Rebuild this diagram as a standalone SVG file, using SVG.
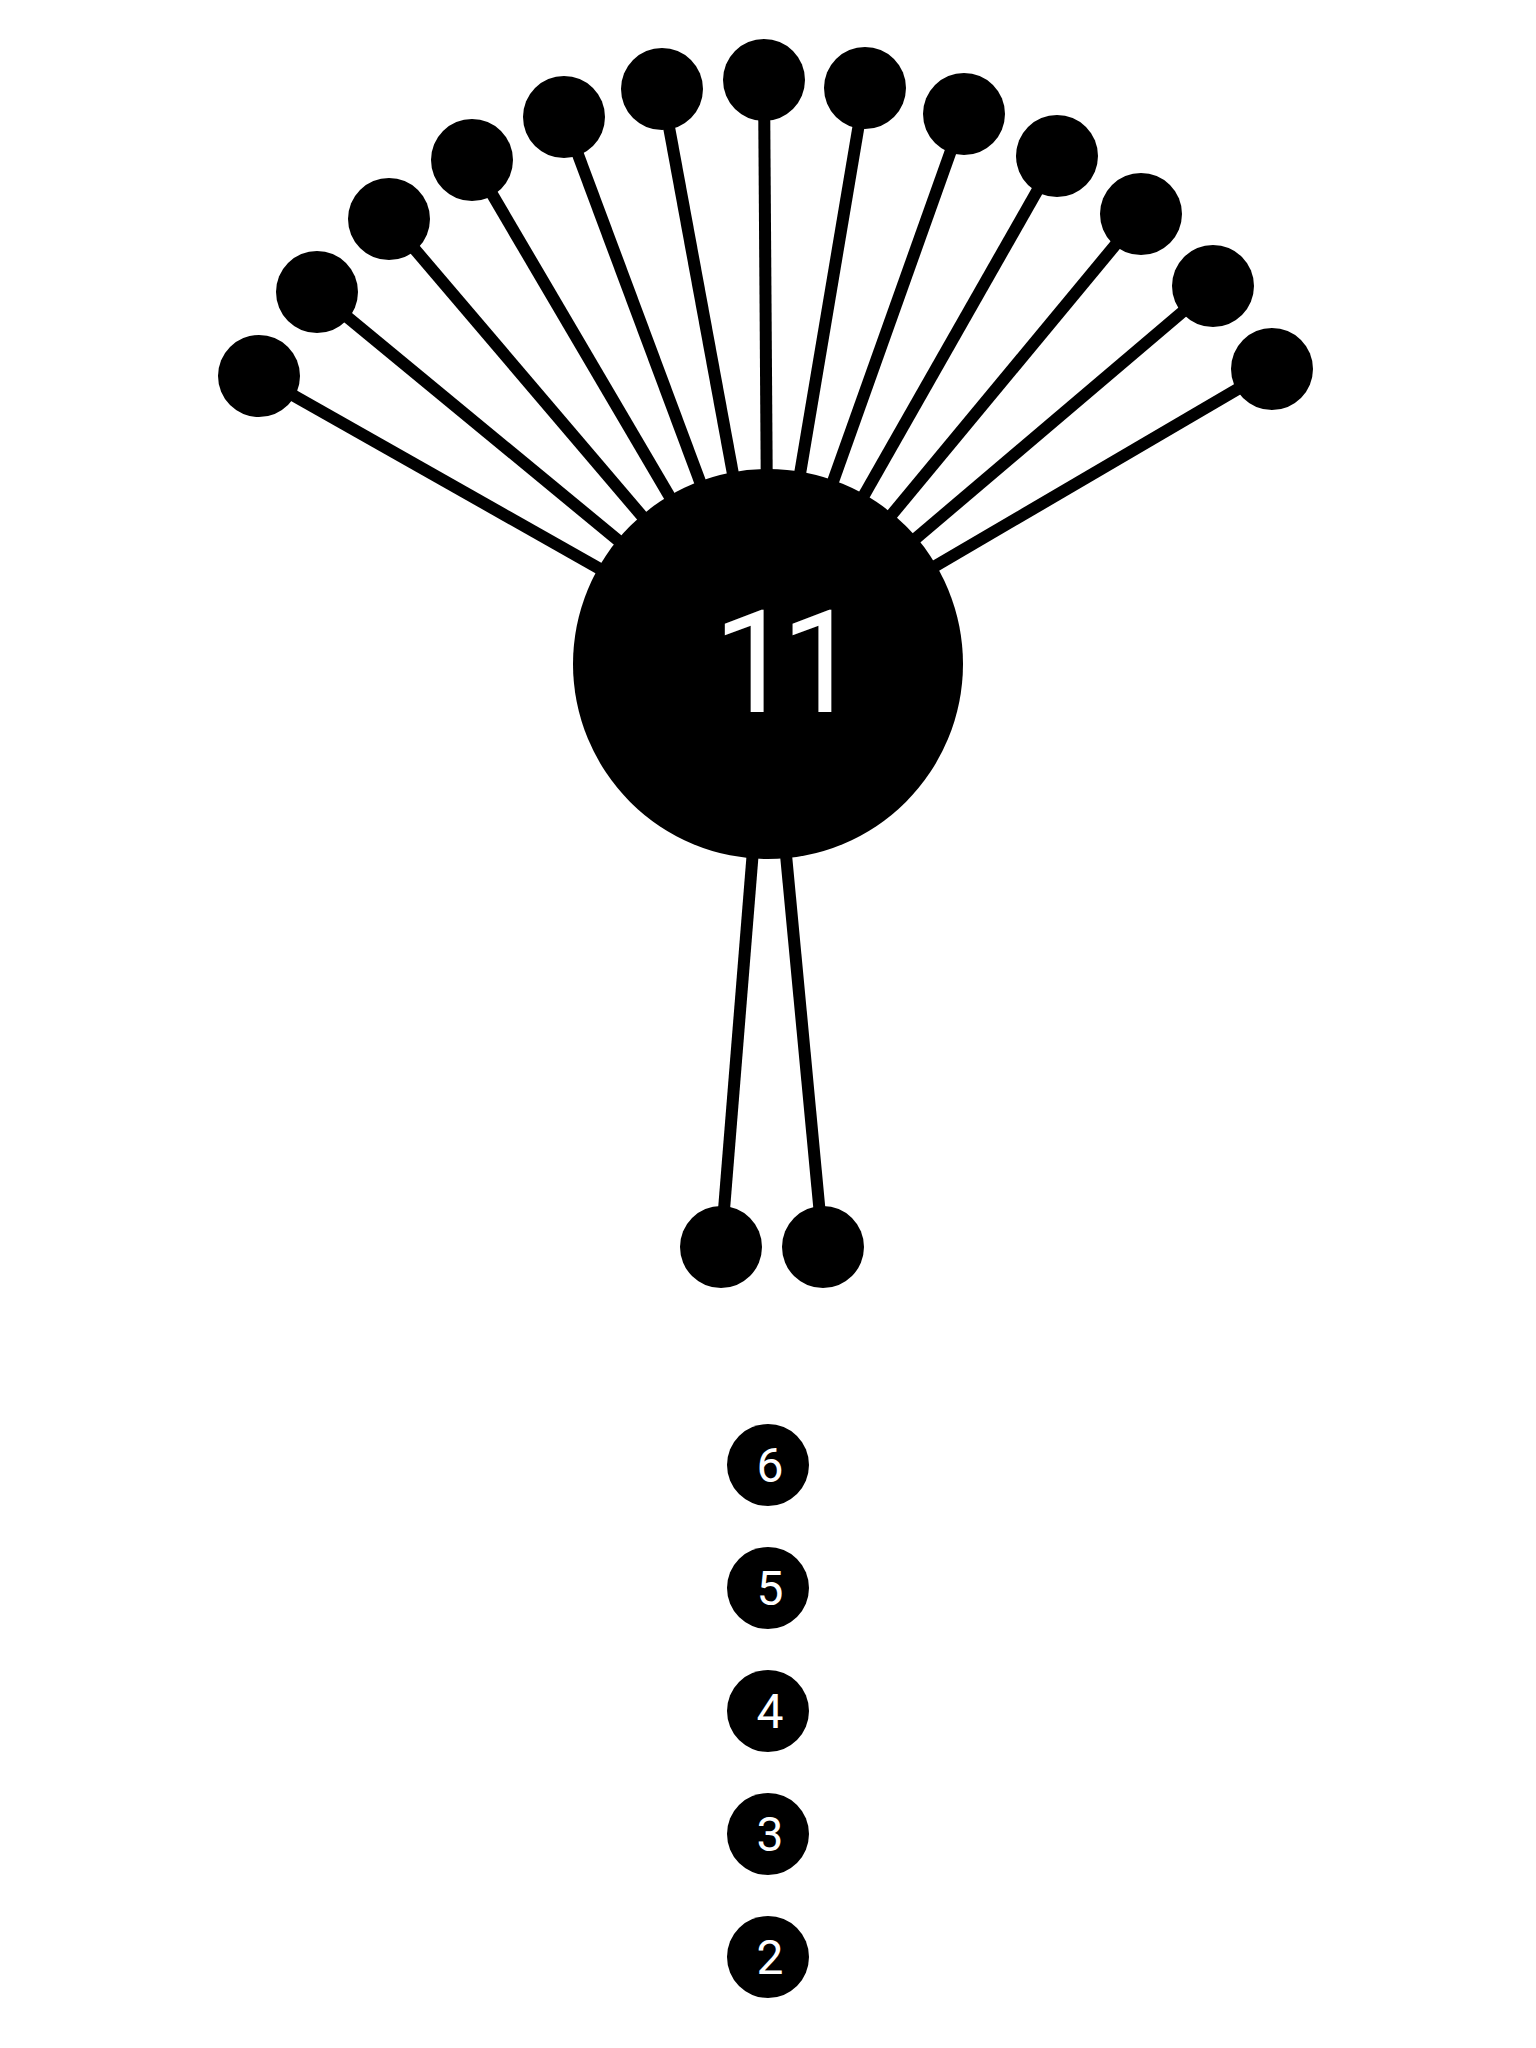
<svg xmlns="http://www.w3.org/2000/svg" width="1536" height="2048" viewBox="0 0 1536 2048">
<style>
.leaf{fill:#000}
.lbl{fill:#ffffff}
</style>
<rect width="1536" height="2048" fill="#fff"/>
<g id="connectors" stroke="#000" stroke-width="12" fill="none">
<line x1="259" y1="376" x2="768" y2="664"/>
<line x1="317" y1="292" x2="768" y2="664"/>
<line x1="389" y1="219" x2="768" y2="664"/>
<line x1="472" y1="160" x2="768" y2="664"/>
<line x1="564" y1="117" x2="768" y2="664"/>
<line x1="662" y1="89" x2="768" y2="664"/>
<line x1="764" y1="80" x2="768" y2="664"/>
<line x1="865" y1="88" x2="768" y2="664"/>
<line x1="964" y1="114" x2="768" y2="664"/>
<line x1="1057" y1="156" x2="768" y2="664"/>
<line x1="1141" y1="214" x2="768" y2="664"/>
<line x1="1213" y1="286" x2="768" y2="664"/>
<line x1="1272" y1="369" x2="768" y2="664"/>
<line x1="721" y1="1247" x2="768" y2="664"/>
<line x1="823" y1="1247" x2="768" y2="664"/>
</g>
<g id="hub"><circle cx="768" cy="664" r="195" fill="#000"/><text class="lbl" x="713" y="712" font-size="142" letter-spacing="-12" font-family="Roboto, 'Noto Sans', sans-serif">11</text></g>
<g id="leaf1"><circle class="leaf" cx="259" cy="376" r="41"/></g>
<g id="leaf2"><circle class="leaf" cx="317" cy="292" r="41"/></g>
<g id="leaf3"><circle class="leaf" cx="389" cy="219" r="41"/></g>
<g id="leaf4"><circle class="leaf" cx="472" cy="160" r="41"/></g>
<g id="leaf5"><circle class="leaf" cx="564" cy="117" r="41"/></g>
<g id="leaf6"><circle class="leaf" cx="662" cy="89" r="41"/></g>
<g id="leaf7"><circle class="leaf" cx="764" cy="80" r="41"/></g>
<g id="leaf8"><circle class="leaf" cx="865" cy="88" r="41"/></g>
<g id="leaf9"><circle class="leaf" cx="964" cy="114" r="41"/></g>
<g id="leaf10"><circle class="leaf" cx="1057" cy="156" r="41"/></g>
<g id="leaf11"><circle class="leaf" cx="1141" cy="214" r="41"/></g>
<g id="leaf12"><circle class="leaf" cx="1213" cy="286" r="41"/></g>
<g id="leaf13"><circle class="leaf" cx="1272" cy="369" r="41"/></g>
<g id="leaf14"><circle class="leaf" cx="721" cy="1247" r="41"/></g>
<g id="leaf15"><circle class="leaf" cx="823" cy="1247" r="41"/></g>
<g id="list" font-family="Roboto, 'Noto Sans', sans-serif" font-size="48" text-anchor="middle">
<g id="n6"><circle class="leaf" cx="768" cy="1465" r="41"/><text class="lbl" x="770" y="1482">6</text></g>
<g id="n5"><circle class="leaf" cx="768" cy="1588" r="41"/><text class="lbl" x="770" y="1605">5</text></g>
<g id="n4"><circle class="leaf" cx="768" cy="1711" r="41"/><text class="lbl" x="770" y="1728">4</text></g>
<g id="n3"><circle class="leaf" cx="768" cy="1834" r="41"/><text class="lbl" x="770" y="1851">3</text></g>
<g id="n2"><circle class="leaf" cx="768" cy="1957" r="41"/><text class="lbl" x="770" y="1974">2</text></g>
</g>
</svg>
